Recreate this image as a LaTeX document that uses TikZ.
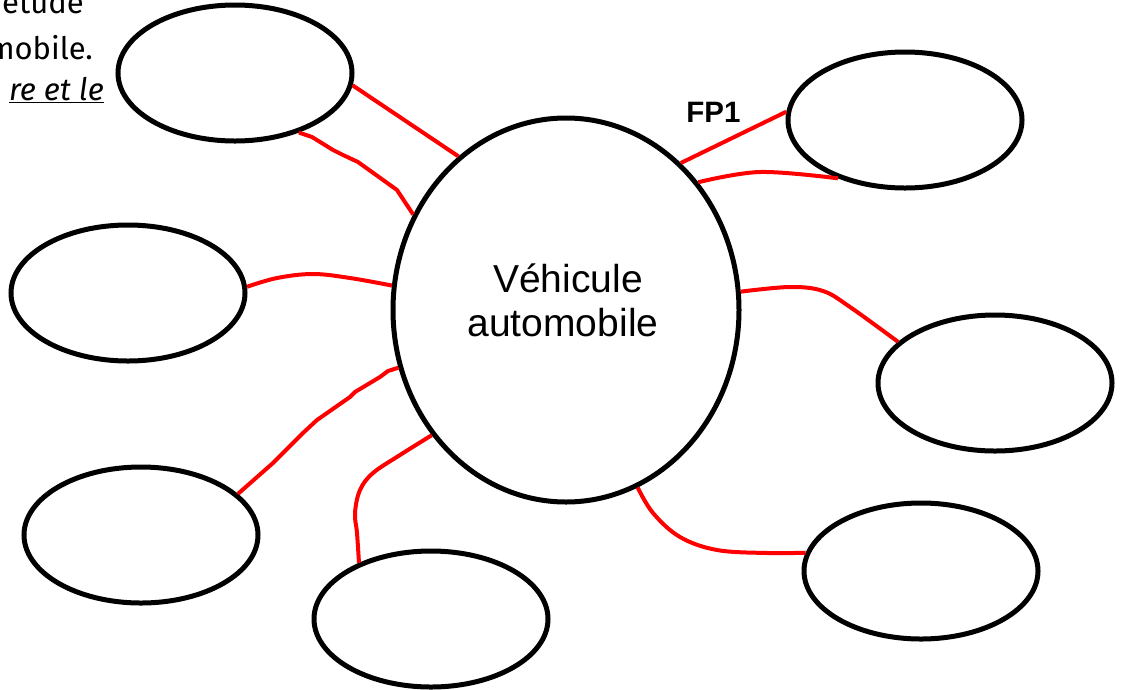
\documentclass[tikz,border=0pt]{standalone}
\usepackage{fontspec}
\setmainfont{Liberation Sans}
\newfontfamily\notefont{Fira Sans}
\usetikzlibrary{shapes.geometric}
\begin{document}
\begin{tikzpicture}[x=1pt,y=-1pt,
  bubble/.style={draw=black, line width=5pt, ellipse, inner sep=0pt, minimum width=234pt, minimum height=136pt},
  link/.style={draw=red, line width=4pt, line join=round},
  note/.style={inner sep=0pt, anchor=base east, font=\notefont\fontsize{31}{34}\selectfont},
  label/.style={inner sep=0pt, anchor=base}]
\useasboundingbox (0,0) rectangle (1124,689);
\clip (0,0) rectangle (1124,689);
\fill[white] (0,0) rectangle (1124,689);

% top-left cut text
\node[note] (n1) at (84,13) {étude};
\node[note] (n2) at (93,59) {mobile.};
\node[note] (n3) at (104,100) {\itshape\underline{re et le}};

% center
\node[draw=black, line width=5pt, ellipse, inner sep=0pt, minimum width=346pt, minimum height=384pt] (c) at (566,310) {};
\node[label, font=\fontsize{39}{44}\selectfont] (t1) at (568,292) {Véhicule};
\node[label, font=\fontsize{39}{44}\selectfont] (t2) at (563,336) {automobile};

% satellites
\node[bubble] (e1) at (235,73) {};
\node[bubble] (e2) at (905,120) {};
\node[bubble] (e3) at (128,293) {};
\node[bubble] (e4) at (995,383) {};
\node[bubble] (e5) at (141,535) {};
\node[bubble] (e6) at (431,619) {};
\node[bubble] (e7) at (921,571) {};

\node[label, font=\bfseries\fontsize{29.5}{32}\selectfont] (fp) at (713.5,122) {FP1};

% connectors
\draw[link] (e1.-6.1) -- (c.125.8);
\draw[link] (e1.-43.6) -- (312,137) -- (333,150) -- (343,155) -- (358,162) -- (397,190) -- (c.148.2);
\draw[link] (c.52.3) -- (e2.176);
\draw[link] plot[smooth, tension=0.6] coordinates {(c.44.1) (760,172) (e2.221.2)};
\draw[link] plot[smooth, tension=0.6] coordinates {(e3.3.4) (277,278) (313,274) (350,278) (c.172.4)};
\draw[link] (c.199.2) -- (388,371) -- (380,377) -- (355,392) -- (350,397) -- (317,420) -- (303,433) -- (273,463) -- (e5.23.1);
\draw[link] plot[smooth, tension=0.6] coordinates {(c.223.7) (400,455) (373,473) (360,490) (355,513) (357,533) (e6.142.3)};
\draw[link] plot[smooth, tension=0.6] coordinates {(c.-68.8) (653,513) (680,537) (717,550) (767,553) (e7.171.2)};
\draw[link] plot[smooth, tension=0.6] coordinates {(c.6.3) (790,287) (823,291) (850,307) (e4.157.2)};
\end{tikzpicture}
\end{document}
